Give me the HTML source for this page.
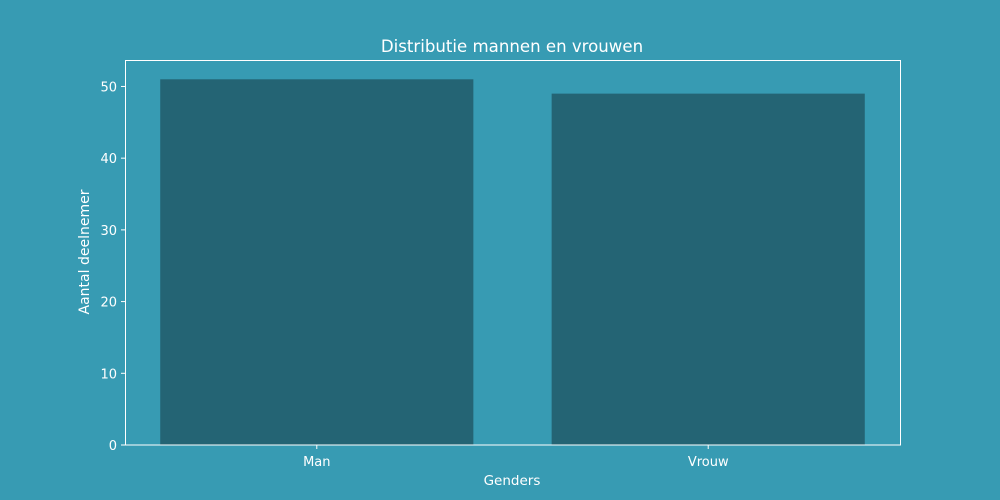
<!DOCTYPE html>
<html><head><meta charset="utf-8"><style>
body{margin:0;background:#379bb3;}
svg{display:block;font-family:"DejaVu Sans","Liberation Sans",sans-serif;}
</style></head><body>
<svg id="chart" width="1000" height="500">
<rect x="0" y="0" width="1000" height="500" fill="#379bb3"/>
<g id="marks"></g>
<rect x="125.5" y="60.5" width="775" height="384.5" fill="none" stroke="#ffffff" stroke-width="1"/>
<text x="512" y="52" fill="#fff" font-size="16.6" text-anchor="middle">Distributie mannen en vrouwen</text>
<text x="512" y="485" fill="#fff" font-size="13.5" text-anchor="middle">Genders</text>
<text transform="translate(89,252) rotate(-90)" fill="#fff" font-size="14" text-anchor="middle">Aantal deelnemer</text>
</svg>
<script>
const categories = ["Man", "Vrouw"];
const values = [51, 49];
const yTicks = [0, 10, 20, 30, 40, 50];
const L=125,R=900,T=61,B=445;
const yMax=Math.max(...values)*1.05;
const y=v=>B-(v/yMax)*(B-T);
const xMin=-0.49,xMax=categories.length-1+0.49;
const x=i=>L+(i-xMin)/(xMax-xMin)*(R-L);
const bw=0.8*(R-L)/(xMax-xMin);
const g=document.getElementById('marks');
const NS="http://www.w3.org/2000/svg";
values.forEach((v,i)=>{
  const r=document.createElementNS(NS,'rect');
  r.setAttribute('x',x(i)-bw/2);r.setAttribute('y',y(v));
  r.setAttribute('width',bw);r.setAttribute('height',B-y(v));
  r.setAttribute('fill','#246474');
  
  
  g.appendChild(r);
  const tk=document.createElementNS(NS,'line');
  tk.setAttribute('x1',x(i));tk.setAttribute('x2',x(i));tk.setAttribute('y1',B);tk.setAttribute('y2',B+4);tk.setAttribute('stroke','#fff');
  
  
  g.appendChild(tk);
  const t=document.createElementNS(NS,'text');
  t.setAttribute('x',x(i));t.setAttribute('y',B+21);t.setAttribute('fill','#fff');t.setAttribute('font-size','13');t.setAttribute('text-anchor','middle');
  t.textContent=categories[i];
  
  
  g.appendChild(t);
});
yTicks.forEach(v=>{
  const tk=document.createElementNS(NS,'line');
  tk.setAttribute('x1',L-4);tk.setAttribute('x2',L);tk.setAttribute('y1',y(v));tk.setAttribute('y2',y(v));tk.setAttribute('stroke','#fff');
  
  
  g.appendChild(tk);
  const t=document.createElementNS(NS,'text');
  t.setAttribute('x',L-8);t.setAttribute('y',y(v)+5);t.setAttribute('fill','#fff');t.setAttribute('font-size','13');t.setAttribute('text-anchor','end');
  t.textContent=v;
  
  
  g.appendChild(t);
});
</script>
</body></html>
